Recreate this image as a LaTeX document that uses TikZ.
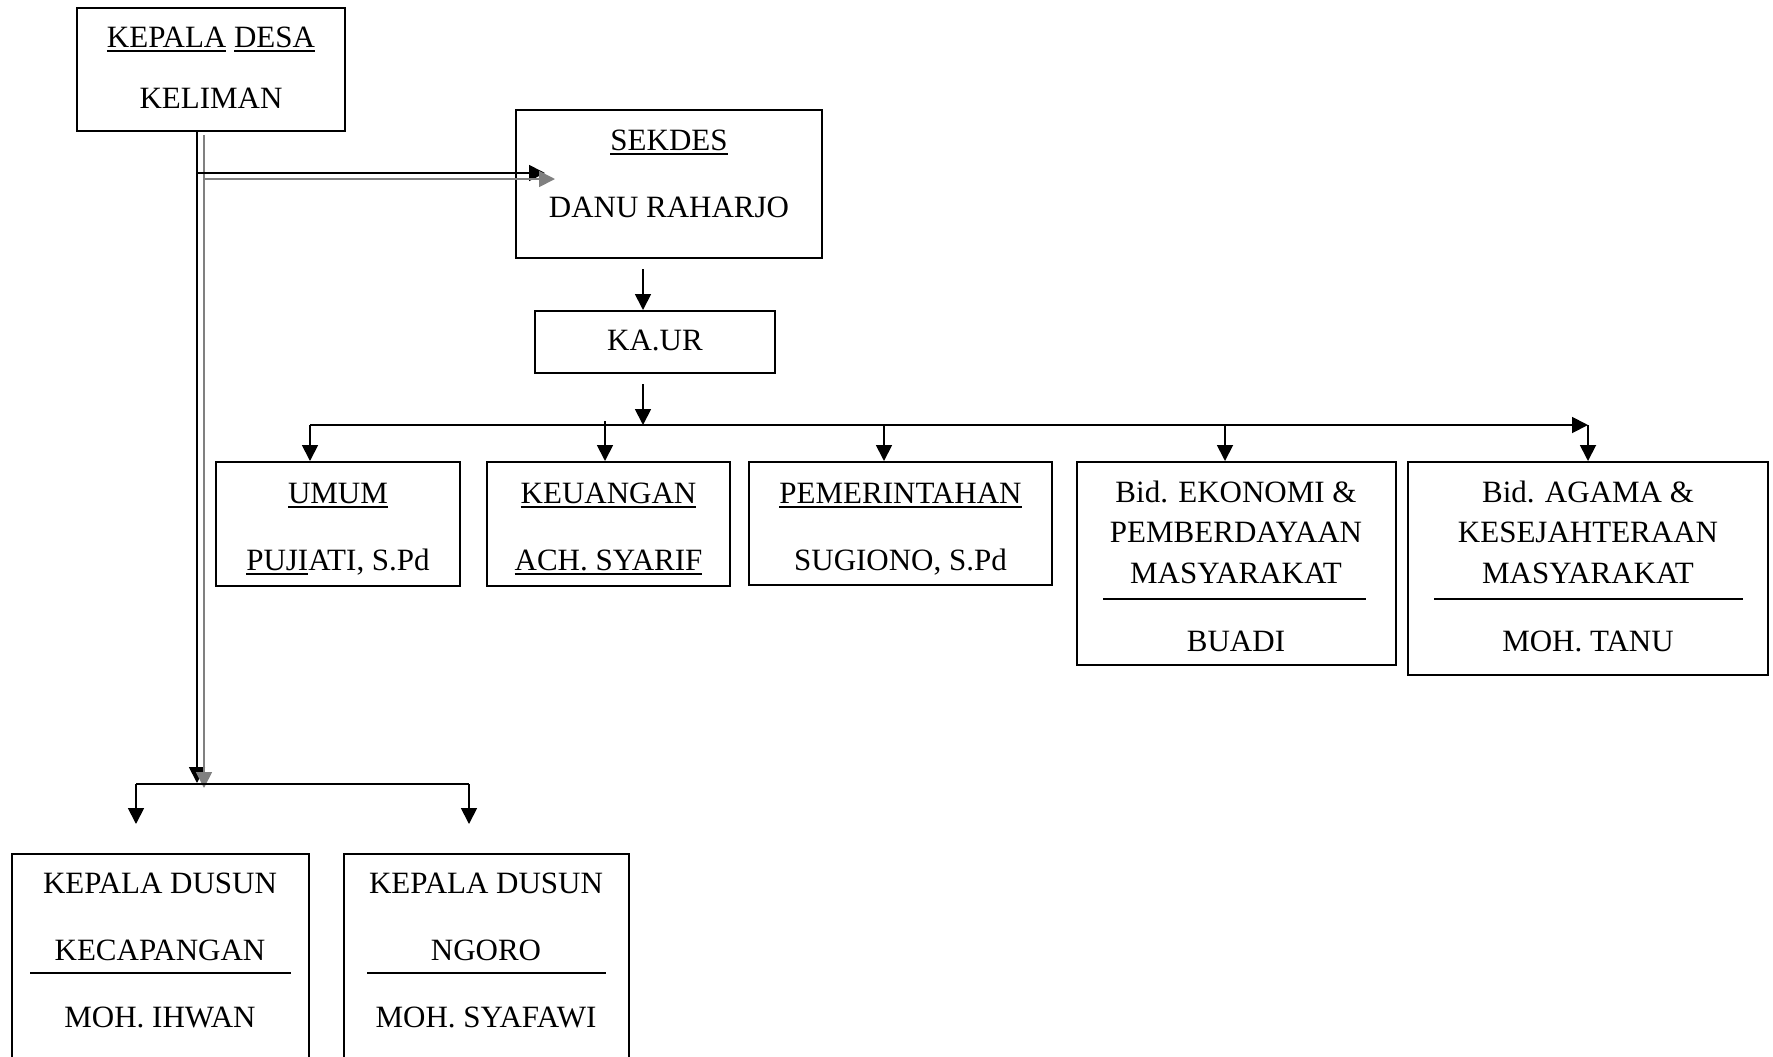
\documentclass[tikz,border=0pt]{standalone}
\usepackage{fontspec}
\setmainfont{Liberation Serif}
\usetikzlibrary{arrows.meta}
\newcommand\ulw[1]{\setbox0\hbox{#1}\rlap{\rule[-2.4pt]{\wd0}{0.9pt}}\box0\relax}
\begin{document}
\begin{tikzpicture}[x=0.5pt,y=-0.5pt,
  box/.style={draw,line width=1pt,rectangle,inner sep=0pt},
  txt/.style={anchor=base,inner sep=0pt,font=\fontsize{15.5}{18}\selectfont},
  link/.style={line width=0.9pt},
  arr/.style={line width=0.9pt,-{Triangle[length=8pt,width=8pt]}},
  garr/.style={line width=0.9pt,gray,-{Triangle[length=8pt,width=8pt]}},
  rulel/.style={line width=1pt}]
\useasboundingbox (0,0) rectangle (1773,1056);

% boxes
\node[box,minimum width=134pt,minimum height=61.5pt] (desa) at (211,69.5) {};
\node[box,minimum width=153pt,minimum height=74pt] (sekdes) at (669,184) {};
\node[box,minimum width=120pt,minimum height=31pt] (kaur) at (655,342) {};
\node[box,minimum width=122pt,minimum height=62pt] (umum) at (338,524) {};
\node[box,minimum width=121.5pt,minimum height=62pt] (keu) at (608.5,524) {};
\node[box,minimum width=151.5pt,minimum height=61.5pt] (pem) at (900.5,523.5) {};
\node[box,minimum width=159.5pt,minimum height=101.5pt] (eko) at (1236.5,563.5) {};
\node[box,minimum width=180pt,minimum height=106.5pt] (aga) at (1588,568.5) {};
\node[box,minimum width=148.5pt,minimum height=108pt] (dus1) at (160.5,962) {};
\node[box,minimum width=142.5pt,minimum height=108pt] (dus2) at (486.5,962) {};

% texts
\node[txt] (t1a) at (211,47) {\ulw{KEPALA} \ulw{DESA}};
\node[txt] (t1b) at (211,108) {KELIMAN};
\node[txt] (t2a) at (669,150) {\ulw{SEKDES}};
\node[txt] (t2b) at (669,217) {DANU RAHARJO};
\node[txt] (t3) at (655,350) {KA.UR};
\node[txt] (t4a) at (338,503) {\ulw{UMUM}};
\node[txt] (t4b) at (338,570) {\ulw{PUJI}ATI, S.Pd};
\node[txt] (t5a) at (608.5,503) {\ulw{KEUANGAN}};
\node[txt] (t5b) at (608.5,570) {\ulw{ACH. SYARIF}};
\node[txt] (t6a) at (900.5,503) {\ulw{PEMERINTAHAN}};
\node[txt] (t6b) at (900.5,570) {SUGIONO, S.Pd};
\node[txt] (t7a) at (1236,502) {Bid. EKONOMI \&};
\node[txt] (t7b) at (1236,542) {PEMBERDAYAAN};
\node[txt] (t7c) at (1236,583) {MASYARAKAT};
\node[txt] (t7d) at (1236,651) {BUADI};
\node[txt] (t8a) at (1588,502) {Bid. AGAMA \&};
\node[txt] (t8b) at (1588,542) {KESEJAHTERAAN};
\node[txt] (t8c) at (1588,583) {MASYARAKAT};
\node[txt] (t8d) at (1588,651) {MOH. TANU};
\node[txt] (t9a) at (160,893) {KEPALA DUSUN};
\node[txt] (t9b) at (160,960) {KECAPANGAN};
\node[txt] (t9c) at (160,1027) {MOH. IHWAN};
\node[txt] (t10a) at (486,893) {KEPALA DUSUN};
\node[txt] (t10b) at (486,960) {NGORO};
\node[txt] (t10c) at (486,1027) {MOH. SYAFAWI};

% rules inside boxes
\draw[rulel] (1103,599) -- (1366,599);
\draw[rulel] (1434,599) -- (1743,599);
\draw[rulel] (30,973) -- (291,973);
\draw[rulel] (367,973) -- (606,973);

% connectors: kepala desa
\coordinate (vb) at (197,131);
\coordinate (vg) at (204,135);
\coordinate (jb) at (197,173);
\coordinate (jg) at (204,179);
\coordinate (sb) at (545,173);
\coordinate (sg) at (555,179);
\draw[arr] (vb) -- (197,783);
\draw[garr] (vg) -- (204,788);
\draw[arr] (jb) -- (sb);
\draw[garr] (jg) -- (sg);

% bottom bus
\coordinate (bl) at (136,784);
\coordinate (br) at (469,784);
\draw[link] (bl) -- (br);
\draw[arr] (bl) -- (136,824);
\draw[arr] (br) -- (469,824);

% sekdes -> kaur
\coordinate (k1) at (643,269);
\draw[arr] (k1) -- (k1 |- kaur.north);
\coordinate (k2) at (643,384);
\coordinate (k3) at (643,425);
\draw[arr] (k2) -- (k3);

% top bus
\coordinate (tl) at (310,425);
\coordinate (tr) at (1588,425);
\draw[arr] (tl) -- (tr);
\draw[arr] (tr) -- (tr |- aga.north);
\draw[arr] (tl) -- (tl |- umum.north);
\coordinate (dk) at (605,421);
\draw[arr] (dk) -- (dk |- keu.north);
\coordinate (dp) at (884,425);
\draw[arr] (dp) -- (dp |- pem.north);
\coordinate (de) at (1225,425);
\draw[arr] (de) -- (de |- eko.north);
\end{tikzpicture}
\end{document}
